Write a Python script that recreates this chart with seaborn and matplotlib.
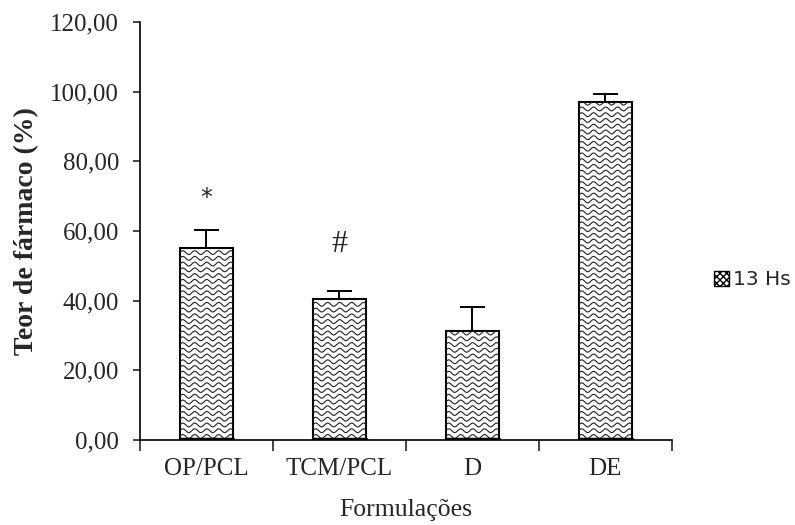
import numpy as np
import pandas as pd
import matplotlib
matplotlib.use('Agg')
import matplotlib.pyplot as plt
from matplotlib.patches import Patch
from matplotlib.ticker import FuncFormatter, FixedLocator
import seaborn as sns

# drug content per formulation (13 h)
formulacoes = ['OP/PCL', 'TCM/PCL', 'D', 'DE']
teor = [55.2, 40.4, 31.3, 96.9]
erro = [5.1, 2.4, 6.9, 2.4]
marcas = ['*', '#', '', '']
marca_y = [69.5, 56.0, 0, 0]

df = pd.DataFrame({'Formulação': formulacoes, 'Teor': teor})

sns.set_style('white')
plt.rcParams['font.family'] = ['Liberation Serif', 'DejaVu Serif']

fig = plt.figure(figsize=(7.95, 5.25), dpi=100)
ax = fig.add_axes([0.176, 0.162, 0.669, 0.796])

sns.barplot(data=df, x='Formulação', y='Teor', errorbar=None, width=0.4,
            color='white', edgecolor='black', linewidth=1.5, ax=ax)

# one-sided (upper) error bars
ax.errorbar(range(len(teor)), teor, yerr=[np.zeros(len(erro)), erro],
            fmt='none', ecolor='black', elinewidth=1.4, capsize=9, capthick=1.4)

# wavy fill inside each bar
for bar in ax.patches:
    x0, w, h = bar.get_x(), bar.get_width(), bar.get_height()
    xs = np.linspace(x0, x0 + w, 200)
    for y0 in np.arange(1.0, h, 1.65):
        ys = y0 + 0.55 * np.sin(2 * np.pi * (xs - x0) / 0.09)
        ln, = ax.plot(xs, ys, color='#222222', lw=0.8, zorder=2)
        ln.set_clip_path(bar)
    ax.plot([x0, x0 + w], [0.3, 0.3], color='black', lw=2.5, zorder=3)

for i, (m, my) in enumerate(zip(marcas, marca_y)):
    if m == '*':
        ax.text(i, my, m, ha='center', va='center', fontsize=17, family=['DejaVu Sans'])
    elif m:
        ax.text(i, my, m, ha='center', va='center', fontsize=23, family=['Liberation Serif'])

ax.set_ylim(0, 120)
ax.set_xlim(-0.5, 3.5)
ax.set_yticks(np.arange(0, 121, 20))
ax.yaxis.set_major_formatter(FuncFormatter(lambda v, p: f'{v:.2f}'.replace('.', ',')))
ax.xaxis.set_minor_locator(FixedLocator(np.arange(-0.5, 3.6, 1)))
ax.tick_params(axis='x', which='major', length=0, labelsize=18, pad=13)
ax.tick_params(axis='x', which='minor', length=8, width=1.2, direction='out', bottom=True)
ax.tick_params(axis='y', length=5, width=1.2, direction='out', labelsize=18, left=True, pad=10)

ax.set_xlabel('Formulações', fontsize=18.5, labelpad=14)
ax.set_ylabel('Teor de fármaco (%)', fontsize=20, fontweight='bold', labelpad=8)

sns.despine(ax=ax)
for s in ['left', 'bottom']:
    ax.spines[s].set_color('black')
    ax.spines[s].set_linewidth(1.2)

leg_handle = Patch(facecolor='white', edgecolor='black', hatch='xxxxx', label='13 Hs')
fig.legend(handles=[leg_handle], loc='center left', bbox_to_anchor=(0.898, 0.467),
           frameon=False, handlelength=0.75, handleheight=0.75, handletextpad=0.2,
           borderpad=0, borderaxespad=0,
           prop={'family': 'DejaVu Sans', 'size': 14.5})

fig.savefig('out.png', dpi=100)
